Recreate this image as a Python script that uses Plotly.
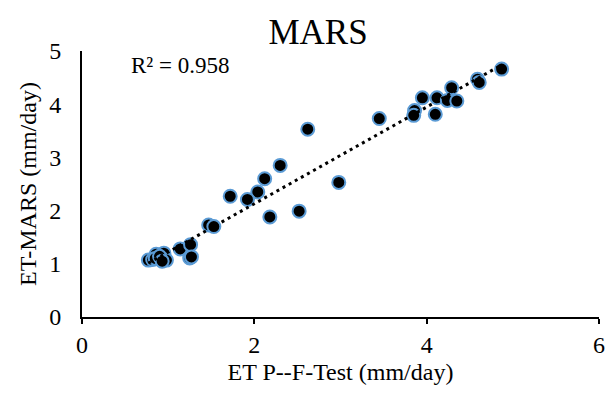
import numpy as np
import plotly.graph_objects as go

et_pf_test = [4.87, 4.59, 4.61, 4.29, 3.95, 4.12, 4.24, 4.35, 4.10, 3.86, 3.85, 3.45,
              2.62, 2.30, 2.12, 2.98, 2.04, 1.72, 1.92, 2.18, 2.52, 1.47, 1.53,
              1.14, 1.26, 1.25, 1.27, 0.95, 0.86, 0.77, 0.82, 0.85, 0.95, 0.98, 0.90, 0.93]
et_mars = [4.66, 4.47, 4.41, 4.31, 4.12, 4.12, 4.07, 4.06, 3.81, 3.88, 3.79, 3.73,
           3.53, 2.85, 2.60, 2.53, 2.35, 2.27, 2.21, 1.88, 1.99, 1.73, 1.70,
           1.28, 1.36, 1.11, 1.13, 1.20, 1.18, 1.07, 1.08, 1.10, 1.07, 1.07, 1.14, 1.05]

title_text = "MARS"
x_title = "ET P--F-Test (mm/day)"
y_title = "ET-MARS (mm/day)"
r2_label = "R² = 0.958"
x_ticks = [0, 2, 4, 6]
y_ticks = [0, 1, 2, 3, 4, 5]

slope, intercept = np.polyfit(et_pf_test, et_mars, 1)
trend_x = [min(et_pf_test), max(et_pf_test)]
trend_y = [slope * v + intercept for v in trend_x]

font_family = "Liberation Serif, Times New Roman, serif"

fig = go.Figure()
fig.add_trace(go.Scatter(
    x=et_pf_test, y=et_mars, mode="markers",
    marker=dict(size=13, color="black", line=dict(color="#5B9BD5", width=2)),
    showlegend=False, hoverinfo="skip"))
fig.add_trace(go.Scatter(
    x=trend_x, y=trend_y, mode="lines",
    line=dict(color="black", width=3, dash="3px,4px"),
    showlegend=False, hoverinfo="skip"))

fig.add_annotation(x=0.0, y=1.0, xref="paper", yref="paper",
                   xshift=47, yshift=-14,
                   text=r2_label, showarrow=False, xanchor="left", yanchor="middle",
                   font=dict(family=font_family, size=23, color="black"))

fig.update_layout(
    width=610, height=397,
    margin=dict(l=82, r=11, t=51, b=80, autoexpand=False),
    paper_bgcolor="white", plot_bgcolor="white",
    font=dict(family=font_family, color="black", size=24),
    title=dict(text=title_text, x=318 / 610, xanchor="center", xref="container",
               y=1 - 19 / 397, yanchor="top",
               font=dict(family=font_family, size=35, color="black")),
    xaxis=dict(range=[0, 6], tickvals=x_ticks, showgrid=False, zeroline=False,
               showline=True, linecolor="black", linewidth=2,
               ticks="outside", ticklen=5, tickwidth=2, tickcolor="black",
               title=dict(text=x_title, font=dict(size=24), standoff=6),
               tickfont=dict(size=24), automargin=False),
    yaxis=dict(range=[0, 5], tickvals=y_ticks, showgrid=False, zeroline=False,
               showline=True, linecolor="black", linewidth=2,
               ticks="", ticklabelstandoff=14,
               title=dict(text=y_title, font=dict(size=24), standoff=6),
               tickfont=dict(size=24), automargin=False),
)

fig.write_html("out.html")
